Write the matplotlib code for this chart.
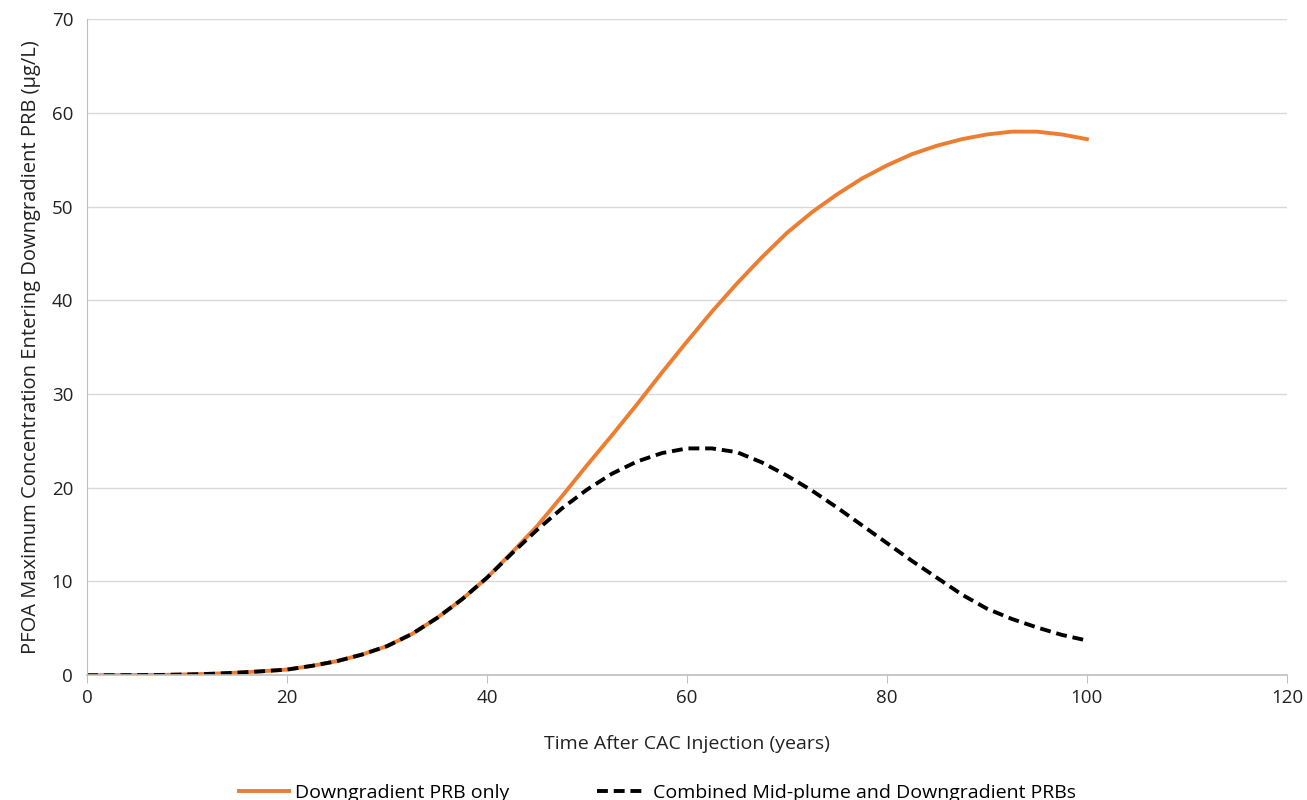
import numpy as np
import matplotlib.pyplot as plt

# years after injection
t = [0, 2.5, 5, 7.5, 10, 12.5, 15, 17.5, 20, 22.5, 25, 27.5, 30, 32.5, 35, 37.5,
     40, 42.5, 45, 47.5, 50, 52.5, 55, 57.5, 60, 62.5, 65, 67.5, 70, 72.5, 75,
     77.5, 80, 82.5, 85, 87.5, 90, 92.5, 95, 97.5, 100]

# Downgradient PRB only
downgradient = [0, 0, 0.01, 0.03, 0.08, 0.15, 0.27, 0.42, 0.6, 1.0, 1.5, 2.2,
                3.1, 4.4, 6.1, 8.1, 10.4, 13.1, 15.9, 19.1, 22.4, 25.6, 28.9,
                32.3, 35.6, 38.8, 41.8, 44.6, 47.2, 49.4, 51.3, 53.0, 54.4,
                55.6, 56.5, 57.2, 57.7, 58.0, 58.0, 57.7, 57.2]

# Combined mid-plume + downgradient PRBs
combined = [0, 0, 0.01, 0.03, 0.08, 0.15, 0.27, 0.42, 0.6, 1.0, 1.5, 2.2,
            3.1, 4.4, 6.1, 8.1, 10.4, 13.0, 15.5, 17.8, 19.8, 21.5, 22.8,
            23.7, 24.2, 24.2, 23.8, 22.7, 21.3, 19.7, 17.9, 16.0, 14.1,
            12.2, 10.4, 8.6, 7.1, 6.0, 5.1, 4.3, 3.7]

plt.rcParams['font.family'] = ['Open Sans', 'DejaVu Sans']

fig = plt.figure(figsize=(13.07, 8), dpi=100)
ax = fig.add_axes([0.0666, 0.156, 0.918, 0.82])

ax.plot(t, downgradient, color="#ED7D31", lw=2.8, label="Downgradient PRB only",
        solid_joinstyle="round")
ax.plot(t, combined, color="black", lw=2.8, linestyle=(0, (2.8, 1.5)),
        label="Combined Mid-plume and Downgradient PRBs")

ax.set_xlim(0, 120)
ax.set_ylim(0, 70)
ax.set_xticks(range(0, 121, 20))
ax.set_yticks(range(0, 71, 10))
ax.grid(axis="y", color="#d9d9d9", lw=1)
ax.set_axisbelow(True)

for s in ["top", "right"]:
    ax.spines[s].set_visible(False)
ax.spines["left"].set_color("#bfbfbf")
ax.spines["bottom"].set_color("#bfbfbf")
ax.spines["bottom"].set_linewidth(1.2)
ax.tick_params(axis="x", length=6, color="#bfbfbf", labelsize=13.5, labelcolor="#222222", pad=4)
ax.tick_params(axis="y", length=0, labelsize=13.5, labelcolor="#222222", pad=10)

ax.set_xlabel("Time After CAC Injection (years)", fontsize=14, color="#222222", labelpad=20)
ax.set_ylabel("PFOA Maximum Concentration Entering Downgradient PRB (µg/L)",
              fontsize=14.5, color="#222222", labelpad=8)

fig.legend(loc="lower center", bbox_to_anchor=(0.503, -0.024), ncol=2, frameon=False,
           fontsize=14, handlelength=2.6, handletextpad=0.3, columnspacing=4.5)

fig.savefig("out.png", dpi=100)
